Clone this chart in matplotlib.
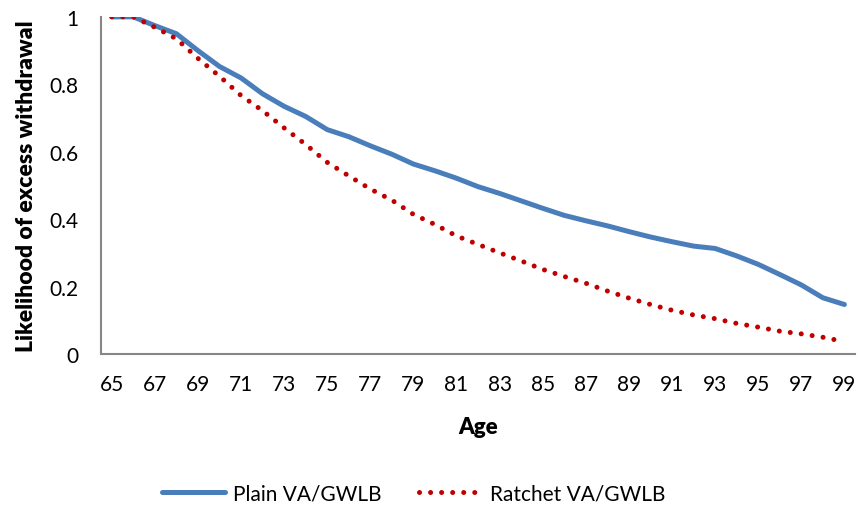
import matplotlib.pyplot as plt

# Data
ages = list(range(65, 100))
plain = [1.0, 1.0, 0.974, 0.950, 0.900, 0.853, 0.819, 0.772, 0.735, 0.705,
         0.666, 0.645, 0.618, 0.593, 0.564, 0.544, 0.522, 0.497, 0.477, 0.455,
         0.433, 0.412, 0.396, 0.381, 0.364, 0.348, 0.334, 0.321, 0.314, 0.292,
         0.267, 0.237, 0.206, 0.168, 0.148]
ratchet = [1.0, 1.0, 0.969, 0.935, 0.877, 0.824, 0.767, 0.722, 0.671, 0.622,
           0.569, 0.529, 0.490, 0.457, 0.415, 0.385, 0.351, 0.326, 0.301, 0.277,
           0.252, 0.231, 0.211, 0.188, 0.167, 0.148, 0.131, 0.117, 0.106, 0.092,
           0.081, 0.069, 0.061, 0.051, 0.038]
labels = ['Plain VA/GWLB', 'Ratchet VA/GWLB']

plt.rcParams['font.family'] = ['Lato', 'DejaVu Sans']

fig = plt.figure(figsize=(8.58, 5.10), dpi=100)
ax = fig.add_axes([0.1177, 0.303, 0.879, 0.662])

x = list(range(len(ages)))
ax.plot(x, plain, color='#4A7EBB', lw=3.6, solid_capstyle='round',
        label=labels[0])
ax.plot(x, ratchet, color='#C00000', lw=3.6, dash_capstyle='round',
        linestyle=(0, (0.01, 2.2)), label=labels[1])

ax.set_xlim(-0.5, len(ages) - 0.5)
ax.set_ylim(0, 1)
ax.set_xticks(x[::2])
ax.set_xticklabels([str(a) for a in ages[::2]])
ax.set_yticks([0, 0.2, 0.4, 0.6, 0.8, 1.0])
ax.set_yticklabels(['0', '0.2', '0.4', '0.6', '0.8', '1'])
ax.tick_params(length=0, labelsize=15, pad=14)
ax.tick_params(axis='y', pad=16)

for s in ['top', 'right']:
    ax.spines[s].set_visible(False)
for s in ['left', 'bottom']:
    ax.spines[s].set_color('#868686')
    ax.spines[s].set_linewidth(1.5)

ax.set_xlabel('Age', fontsize=16, fontweight='heavy', labelpad=16)
ax.set_ylabel('Likelihood of excess withdrawal', fontsize=16.5,
              fontweight='heavy', labelpad=9)

fig.legend(loc='center', bbox_to_anchor=(0.482, 0.03), ncol=2, frameon=False,
           fontsize=15, handlelength=3.0, handletextpad=0.4,
           columnspacing=1.8)

fig.savefig('out.png', dpi=100)
